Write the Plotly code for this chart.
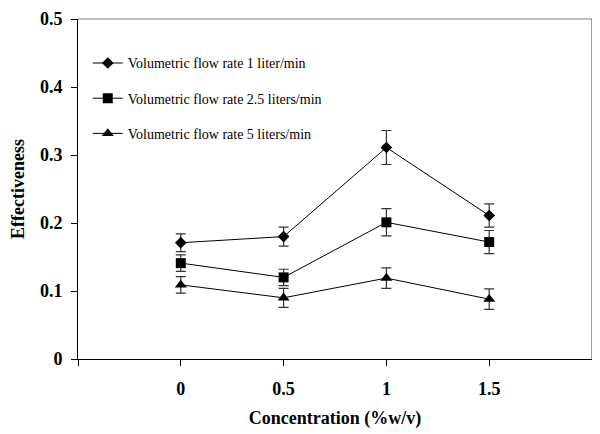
import plotly.graph_objects as go

concentration = [0, 0.5, 1, 1.5]
names = ["Volumetric flow rate 1 liter/min",
         "Volumetric flow rate 2.5 liters/min",
         "Volumetric flow rate 5 liters/min"]
eff_1 = [0.171, 0.180, 0.311, 0.211]
err_1 = [0.013, 0.014, 0.025, 0.017]
eff_25 = [0.141, 0.120, 0.201, 0.172]
err_25 = [0.012, 0.012, 0.020, 0.017]
eff_5 = [0.109, 0.090, 0.119, 0.088]
err_5 = [0.012, 0.014, 0.015, 0.015]
x_tickvals = [-0.5, 0, 0.5, 1, 1.5, 2.0]
x_ticktext = ["", "0", "0.5", "1", "1.5", ""]
y_tickvals = [0, 0.1, 0.2, 0.3, 0.4, 0.5]
y_ticktext = ["0", "0.1", "0.2", "0.3", "0.4", "0.5"]

series = [(eff_1, err_1, "diamond", 9), (eff_25, err_25, "square", 10), (eff_5, err_5, "triangle-up", 10.5)]

FONT = "Liberation Serif"
fig = go.Figure()
for i, (name, (vals, errs, sym, sz)) in enumerate(zip(names, series)):
    fig.add_trace(go.Scatter(
        x=concentration, y=vals, name=name, mode="lines+markers",
        line=dict(color="black", width=1),
        marker=dict(symbol=sym, size=sz, color="black"),
        error_y=dict(type="data", array=errs, visible=True, color="#333333", thickness=1.2, width=5),
        legendgroup=str(i),
    ))

# page body has an 8px default margin, so the figure is sized to fit the 600x434 window
fig.update_layout(
    width=592, height=426,
    margin=dict(l=70, r=8, t=11, b=75),
    plot_bgcolor="white", paper_bgcolor="white",
    font=dict(family=FONT, color="black"),
    showlegend=True,
    legend=dict(x=0.019, y=0.9165, xanchor="left", yanchor="top",
                font=dict(family=FONT, size=14, color="black"),
                tracegroupgap=14, bgcolor="rgba(0,0,0,0)", itemwidth=30),
    xaxis=dict(range=[-0.5, 2.0], tickvals=x_tickvals, ticktext=x_ticktext, automargin=False,
               ticks="outside", ticklen=6, tickcolor="black", showgrid=False, zeroline=False,
               showline=True, linecolor="black", linewidth=1, ticklabelstandoff=7,
               tickfont=dict(family=FONT, size=18, color="black", weight="bold"),
               title=dict(text="Concentration (%w/v)", font=dict(family=FONT, size=18, weight="bold"), standoff=13)),
    yaxis=dict(range=[0, 0.5], tickvals=y_tickvals, ticktext=y_ticktext, automargin=False,
               ticks="outside", ticklen=6, tickcolor="black", showgrid=False, zeroline=False,
               showline=True, linecolor="black", linewidth=1, ticklabelstandoff=5,
               tickfont=dict(family=FONT, size=18, color="black", weight="bold"),
               title=dict(text="Effectiveness", font=dict(family=FONT, size=18, weight="bold"), standoff=16)),
    shapes=[
        dict(type="line", xref="paper", yref="paper", x0=0, x1=1, y0=1, y1=1, line=dict(color="#808080", width=1)),
        dict(type="line", xref="paper", yref="paper", x0=1, x1=1, y0=0, y1=1, line=dict(color="#404040", width=1)),
    ],
)

fig.write_html("out.html")
